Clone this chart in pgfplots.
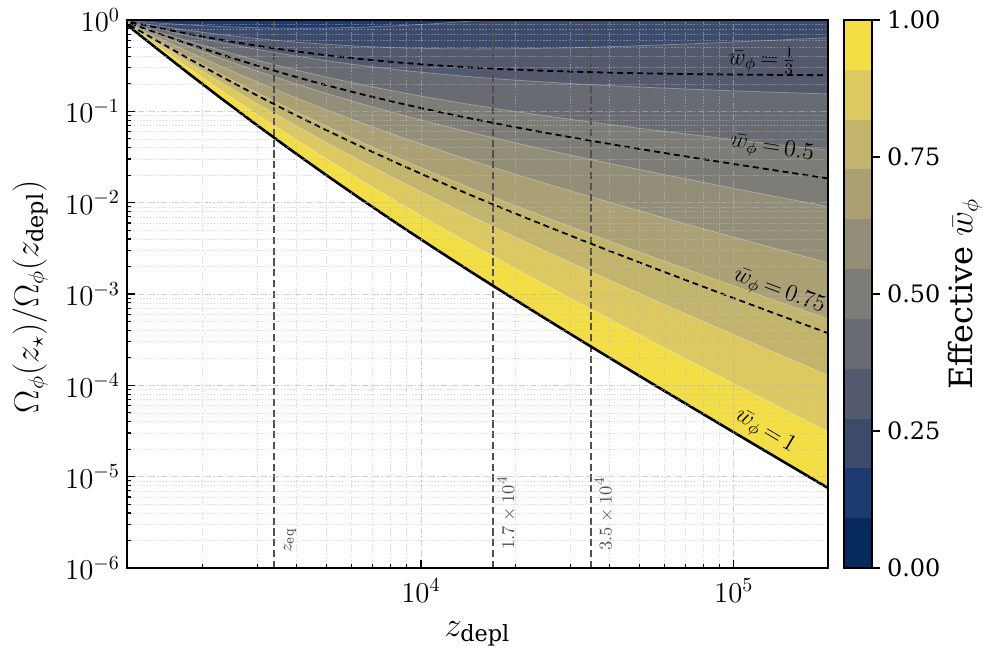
\documentclass[border=0pt]{standalone}
\usepackage{fontspec}
\setmainfont{DejaVu Serif}
\usepackage{pgfplots}
\usepackage{pgfplotstable}
\pgfplotsset{compat=1.18}

\definecolor{b0}{RGB}{7,42,92}
\definecolor{b1}{RGB}{27,58,111}
\definecolor{b2}{RGB}{60,74,108}
\definecolor{b3}{RGB}{83,90,109}
\definecolor{b4}{RGB}{104,107,113}
\definecolor{b5}{RGB}{125,124,118}
\definecolor{b6}{RGB}{147,142,120}
\definecolor{b7}{RGB}{170,160,116}
\definecolor{b8}{RGB}{195,180,108}
\definecolor{b9}{RGB}{221,201,95}
\definecolor{b10}{RGB}{243,222,70}
\definecolor{vline}{RGB}{80,80,80}

% u = log10(z_depl); k_n = log10 ratio on the boundary w = n/11; wa,wb,wc = w = 1/3, 0.5, 0.75
\pgfplotstableread{
u k1 k2 k3 k4 k5 k6 k7 k8 k9 k10 k11 wa wb wc
3.04139 0 0 0 0 0 0 0 0 0 0 0 0 0 0
3.14613 -0.0005 -0.0291 -0.0577 -0.0862 -0.1148 -0.1434 -0.1719 -0.2005 -0.2291 -0.2576 -0.2862 -0.0767 -0.1291 -0.2076
3.25527 0.0045 -0.0539 -0.1122 -0.1705 -0.2289 -0.2872 -0.3455 -0.4039 -0.4622 -0.5205 -0.5789 -0.1511 -0.2580 -0.4184
3.36173 0.0153 -0.0721 -0.1594 -0.2468 -0.3342 -0.4215 -0.5089 -0.5963 -0.6836 -0.7710 -0.8584 -0.2177 -0.3779 -0.6181
3.47712 0.0341 -0.0847 -0.2035 -0.3224 -0.4412 -0.5600 -0.6789 -0.7977 -0.9166 -1.0354 -1.1542 -0.2828 -0.5006 -0.8274
3.59106 0.0602 -0.0897 -0.2396 -0.3895 -0.5394 -0.6894 -0.8393 -0.9892 -1.1391 -1.2890 -1.4389 -0.3396 -0.6144 -1.0267
3.69897 0.0917 -0.0876 -0.2670 -0.4463 -0.6256 -0.8050 -0.9843 -1.1637 -1.3430 -1.5223 -1.7017 -0.3865 -0.7153 -1.2085
3.81291 0.1320 -0.0784 -0.2888 -0.4992 -0.7097 -0.9201 -1.1305 -1.3409 -1.5513 -1.7617 -1.9721 -0.4291 -0.8149 -1.3935
3.92942 0.1802 -0.0620 -0.3042 -0.5464 -0.7886 -1.0308 -1.2730 -1.5152 -1.7574 -1.9996 -2.2418 -0.4657 -0.9097 -1.5757
4.04139 0.2324 -0.0403 -0.3130 -0.5858 -0.8585 -1.1312 -1.4039 -1.6767 -1.9494 -2.2221 -2.4949 -0.4949 -0.9949 -1.7449
4.16137 0.2942 -0.0113 -0.3167 -0.6222 -0.9276 -1.2331 -1.5385 -1.8440 -2.1494 -2.4549 -2.7603 -0.5203 -1.0803 -1.9203
4.27875 0.3596 0.0221 -0.3153 -0.6528 -0.9903 -1.3277 -1.6652 -2.0026 -2.3401 -2.6776 -3.0150 -0.5403 -1.1590 -2.0870
4.39794 0.4301 0.0602 -0.3098 -0.6798 -1.0497 -1.4197 -1.7897 -2.1596 -2.5296 -2.8996 -3.2695 -0.5564 -1.2347 -2.2521
4.51851 0.5050 0.1022 -0.3007 -0.7035 -1.1064 -1.5092 -1.9121 -2.3149 -2.7178 -3.1206 -3.5235 -0.5692 -1.3078 -2.4156
4.64345 0.5856 0.1487 -0.2882 -0.7251 -1.1621 -1.5990 -2.0359 -2.4728 -2.9098 -3.3467 -3.7836 -0.5795 -1.3805 -2.5821
4.76343 0.6653 0.1957 -0.2740 -0.7436 -1.2133 -1.6829 -2.1526 -2.6222 -3.0918 -3.5615 -4.0312 -0.5871 -1.4481 -2.7396
4.88649 0.7488 0.2456 -0.2576 -0.7608 -1.2640 -1.7672 -2.2704 -2.7736 -3.2768 -3.7801 -4.2833 -0.5931 -1.5156 -2.8994
5.00000 0.8271 0.2930 -0.2412 -0.7754 -1.3095 -1.8437 -2.3779 -2.9120 -3.4462 -3.9803 -4.5145 -0.5973 -1.5766 -3.0456
5.14613 0.9293 0.3553 -0.2187 -0.7927 -1.3668 -1.9408 -2.5148 -3.0888 -3.6628 -4.2369 -4.8109 -0.6014 -1.6538 -3.2323
5.30103 1.0389 0.4226 -0.1937 -0.8099 -1.4262 -2.0425 -2.6587 -3.2750 -3.8912 -4.5075 -5.1238 -0.6045 -1.7343 -3.4291
5.30103 1 1 1 1 1 1 1 1 1 1 1 1 1 1
3.04139 1 1 1 1 1 1 1 1 1 1 1 1 1 1
}\curves

\begin{document}
\begin{tikzpicture}
\useasboundingbox (0,0) rectangle (495pt,324pt);
\begin{axis}[
  at={(63.5pt,40pt)}, anchor=south west,
  width=350.5pt, height=274pt, scale only axis,
  xmin=3.0607, xmax=5.30103, ymin=-6, ymax=0,
  axis on top,
  xtick={4,5}, xticklabels={$10^{4}$,$10^{5}$},
  minor xtick={3.30103,3.47712,3.60206,3.69897,3.77815,3.84510,3.90309,3.95424,4.30103,4.47712,4.60206,4.69897,4.77815,4.84510,4.90309,4.95424},
  ytick={-6,-5,-4,-3,-2,-1,0},
  yticklabels={$10^{-6}$,$10^{-5}$,$10^{-4}$,$10^{-3}$,$10^{-2}$,$10^{-1}$,$10^{0}$},
  minor ytick={-5.69897,-5.52288,-5.39794,-5.30103,-5.22185,-5.15490,-5.09691,-5.04576,
               -4.69897,-4.52288,-4.39794,-4.30103,-4.22185,-4.15490,-4.09691,-4.04576,
               -3.69897,-3.52288,-3.39794,-3.30103,-3.22185,-3.15490,-3.09691,-3.04576,
               -2.69897,-2.52288,-2.39794,-2.30103,-2.22185,-2.15490,-2.09691,-2.04576,
               -1.69897,-1.52288,-1.39794,-1.30103,-1.22185,-1.15490,-1.09691,-1.04576,
               -0.69897,-0.52288,-0.39794,-0.30103,-0.22185,-0.15490,-0.09691,-0.04576},
  tick align=inside,
  xtick pos=bottom, ytick pos=left,
  major tick length=4pt, minor tick length=2pt,
  every tick/.style={black, line width=0.6pt},
  grid=both,
  major grid style={black!30, opacity=0.6, dash pattern=on 3pt off 1pt on 0.6pt off 1pt, line width=0.4pt},
  minor grid style={black!25, opacity=0.5, dash pattern=on 0.8pt off 0.8pt, line width=0.3pt},
  axis line style={line width=1.1pt},
  tick label style={font=\fontsize{14.5}{16}\selectfont},
  xticklabel shift=2pt,
  xlabel={$z_{\mathrm{depl}}$},
  ylabel={$\Omega_\phi(z_\star)/\Omega_\phi(z_{\mathrm{depl}})$},
  xlabel style={at={(axis description cs:0.5,-0.12)}, anchor=center, font=\fontsize{16}{19}\selectfont},
  ylabel style={at={(axis description cs:-0.138,0.495)}, anchor=center, font=\fontsize{16}{19}\selectfont},
]
% filled bands (painter's order)
\addplot[fill=b10, draw=none] table[x=u, y=k11] {\curves};
\addplot[fill=b9, draw=none] table[x=u, y=k10] {\curves};
\addplot[fill=b8, draw=none] table[x=u, y=k9] {\curves};
\addplot[fill=b7, draw=none] table[x=u, y=k8] {\curves};
\addplot[fill=b6, draw=none] table[x=u, y=k7] {\curves};
\addplot[fill=b5, draw=none] table[x=u, y=k6] {\curves};
\addplot[fill=b4, draw=none] table[x=u, y=k5] {\curves};
\addplot[fill=b3, draw=none] table[x=u, y=k4] {\curves};
\addplot[fill=b2, draw=none] table[x=u, y=k3] {\curves};
\addplot[fill=b1, draw=none] table[x=u, y=k2] {\curves};
\addplot[fill=b0, draw=none] table[x=u, y=k1] {\curves};
% faint seams between bands
\foreach \c in {k2,k3,k4,k5,k6,k7,k8,k9,k10}{
  \addplot[white, opacity=0.3, line width=0.4pt, skip coords between index={20}{22}] table[x=u, y=\c] {\curves};
}
% vertical reference lines
\addplot[vline, line width=0.85pt, dash pattern=on 3.6pt off 1.8pt] coordinates {(3.53148,-6) (3.53148,0)};
\addplot[vline, line width=0.85pt, dash pattern=on 3.6pt off 1.8pt] coordinates {(4.23045,-6) (4.23045,0)};
\addplot[vline, line width=0.85pt, dash pattern=on 3.6pt off 1.8pt] coordinates {(4.54407,-6) (4.54407,0)};
% dashed iso-w curves
\addplot[black, line width=0.9pt, dash pattern=on 3pt off 2pt, skip coords between index={20}{22}] table[x=u, y=wa] {\curves};
\addplot[black, line width=0.9pt, dash pattern=on 3pt off 2pt, skip coords between index={20}{22}] table[x=u, y=wb] {\curves};
\addplot[black, line width=0.9pt, dash pattern=on 3pt off 2pt, skip coords between index={20}{22}] table[x=u, y=wc] {\curves};
% w = 1 boundary
\addplot[black, line width=1.3pt, skip coords between index={20}{22}] table[x=u, y=k11] {\curves};
% labels
\node[font=\fontsize{11.5}{13}\selectfont, rotate=-2] at (axis cs:5.0901,-0.438) {$\bar{w}_\phi\,{=}\,\frac{1}{3}$};
\node[font=\fontsize{11.5}{13}\selectfont, rotate=-9] at (axis cs:5.1221,-1.412) {$\bar{w}_\phi\,{=}\,0.5$};
\node[font=\fontsize{11.5}{13}\selectfont, rotate=-20.5] at (axis cs:5.1445,-2.978) {$\bar{w}_\phi\,{=}\,0.75$};
\node[font=\fontsize{11.5}{13}\selectfont, rotate=-31] at (axis cs:5.0997,-4.511) {$\bar{w}_\phi\,{=}\,1$};
\node[vline, font=\fontsize{9}{11}\selectfont, rotate=90, anchor=west, inner sep=0pt] at (axis cs:3.5816,-5.836) {$z_{\mathrm{eq}}$};
\node[vline, font=\fontsize{9.5}{11}\selectfont, rotate=90, anchor=west, inner sep=0pt] at (axis cs:4.2742,-5.803) {$1.7\times10^{4}$};
\node[vline, font=\fontsize{9.5}{11}\selectfont, rotate=90, anchor=west, inner sep=0pt] at (axis cs:4.5852,-5.814) {$3.5\times10^{4}$};
\end{axis}

\begin{axis}[
  at={(422pt,40pt)}, anchor=south west,
  width=14pt, height=274pt, scale only axis,
  xmin=0, xmax=1, ymin=0, ymax=1,
  clip=false,
  xtick=\empty,
  ytick={0,0.25,0.5,0.75,1}, yticklabels={0.00,0.25,0.50,0.75,1.00},
  ytick pos=right, yticklabel pos=right, tick align=outside,
  major tick length=4pt,
  every tick/.style={black, line width=0.6pt},
  axis line style={line width=0.9pt},
  axis on top,
  tick label style={font=\fontsize{12}{14}\selectfont},
]
\addplot[fill=b0, draw=none] coordinates {(0,0) (1,0) (1,0.090909) (0,0.090909)};
\addplot[fill=b1, draw=none] coordinates {(0,0.090909) (1,0.090909) (1,0.181818) (0,0.181818)};
\addplot[fill=b2, draw=none] coordinates {(0,0.181818) (1,0.181818) (1,0.272727) (0,0.272727)};
\addplot[fill=b3, draw=none] coordinates {(0,0.272727) (1,0.272727) (1,0.363636) (0,0.363636)};
\addplot[fill=b4, draw=none] coordinates {(0,0.363636) (1,0.363636) (1,0.454545) (0,0.454545)};
\addplot[fill=b5, draw=none] coordinates {(0,0.454545) (1,0.454545) (1,0.545455) (0,0.545455)};
\addplot[fill=b6, draw=none] coordinates {(0,0.545455) (1,0.545455) (1,0.636364) (0,0.636364)};
\addplot[fill=b7, draw=none] coordinates {(0,0.636364) (1,0.636364) (1,0.727273) (0,0.727273)};
\addplot[fill=b8, draw=none] coordinates {(0,0.727273) (1,0.727273) (1,0.818182) (0,0.818182)};
\addplot[fill=b9, draw=none] coordinates {(0,0.818182) (1,0.818182) (1,0.909091) (0,0.909091)};
\addplot[fill=b10, draw=none] coordinates {(0,0.909091) (1,0.909091) (1,1) (0,1)};
\node[rotate=90, font=\fontsize{16}{19}\selectfont] at (axis description cs:4.32,0.5) {Effective $\bar{w}_\phi$};
\end{axis}
\end{tikzpicture}
\end{document}
